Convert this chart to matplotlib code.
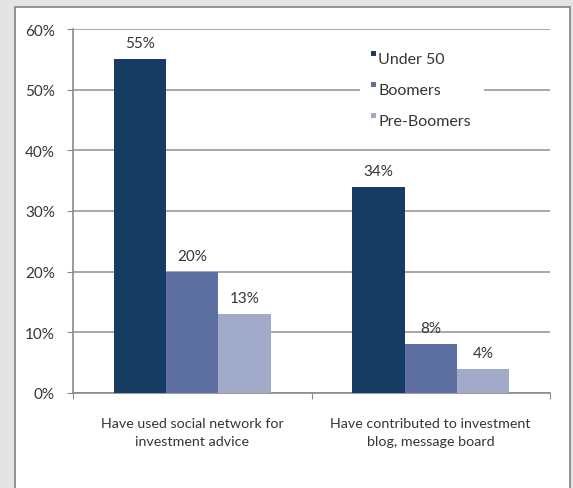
import matplotlib
matplotlib.use("Agg")
import matplotlib.pyplot as plt
from matplotlib.patches import Rectangle
import numpy as np

categories = ["Have used social network for\ninvestment advice",
              "Have contributed to investment\nblog, message board"]
series_names = ["Under 50", "Boomers", "Pre-Boomers"]
under_50 = [55, 34]
boomers = [20, 8]
pre_boomers = [13, 4]
y_ticks = [0, 10, 20, 30, 40, 50, 60]

colors = ["#173c64", "#5e6fa1", "#a1aac9"]
text_color = "#353535"
plt.rcParams["font.family"] = ["Lato", "DejaVu Sans"]

W, H = 573, 489
fig = plt.figure(figsize=(W / 100, H / 100), dpi=100)
fig.patch.set_facecolor("#e4e4e6")


def px(x, y):
    """Figure fraction from pixel position measured from the top-left."""
    return x / W, 1 - y / H


# white panel with grey frame
panel = Rectangle((14.5 / W, -0.05), (570 - 14.5) / W, 1.05 - 8 / H,
                  transform=fig.transFigure, facecolor="white",
                  edgecolor="#8a8a8a", linewidth=1.3, zorder=-10)
fig.patches.append(panel)

ax = fig.add_axes([73 / W, 1 - 394 / H, (550 - 73) / W, (394 - 30) / H])
ax.set_zorder(1)
ax.set_facecolor("none")

x = np.arange(len(categories))
width = 0.22
series = [under_50, boomers, pre_boomers]
for i, (name, vals, c) in enumerate(zip(series_names, series, colors)):
    pos = x + (i - 1) * width
    ax.bar(pos, vals, width, color=c, label=name, zorder=3)
    for xp, v in zip(pos, vals):
        ax.annotate(f"{v}%", (xp, v), xytext=(0, 6.5), textcoords="offset points",
                    ha="center", va="bottom", fontsize=11, color=text_color,
                    zorder=4)

ax.set_xlim(-0.5, 1.5)
ax.set_ylim(0, 60)
ax.set_yticks(y_ticks)
ax.set_yticklabels([f"{t}%" for t in y_ticks], fontsize=11, color=text_color)
ax.yaxis.grid(True, color="#a8a8a8", linewidth=1.4, zorder=1)
ax.set_axisbelow(True)

ax.set_xticks([-0.5, 0.5, 1.5])
ax.set_xticklabels([])
ax.set_xticks(x, minor=True)
ax.set_xticklabels(categories, minor=True, fontsize=10.3, color=text_color,
                   linespacing=1.6)
ax.tick_params(axis="x", which="minor", length=0, pad=17)
ax.tick_params(axis="x", which="major", length=4, color="#8a8a8a")
ax.tick_params(axis="y", length=4, color="#8a8a8a", pad=9)

for s in ["top", "right"]:
    ax.spines[s].set_visible(False)
for s in ["left", "bottom"]:
    ax.spines[s].set_color("#8a8a8a")
    ax.spines[s].set_linewidth(1.2)

# legend: white box over the gridlines, small square keys beside each label
ax.add_artist(Rectangle(px(360, 136), (484 - 360) / W, (136 - 42) / H,
                        transform=fig.transFigure, facecolor="white",
                        edgecolor="none", zorder=5))
for k, (name, c) in enumerate(zip(series_names, colors)):
    yc = 60 + 31 * k
    ax.add_artist(Rectangle(px(370.5, yc - 3), 5 / W, 5 / H,
                            transform=fig.transFigure, facecolor=c,
                            edgecolor="none", zorder=6))
    ax.text(*px(378.5, yc), name, transform=fig.transFigure, ha="left",
            va="center", fontsize=11.5, color=text_color, zorder=6)

fig.savefig("out.png", dpi=100, facecolor=fig.get_facecolor())
